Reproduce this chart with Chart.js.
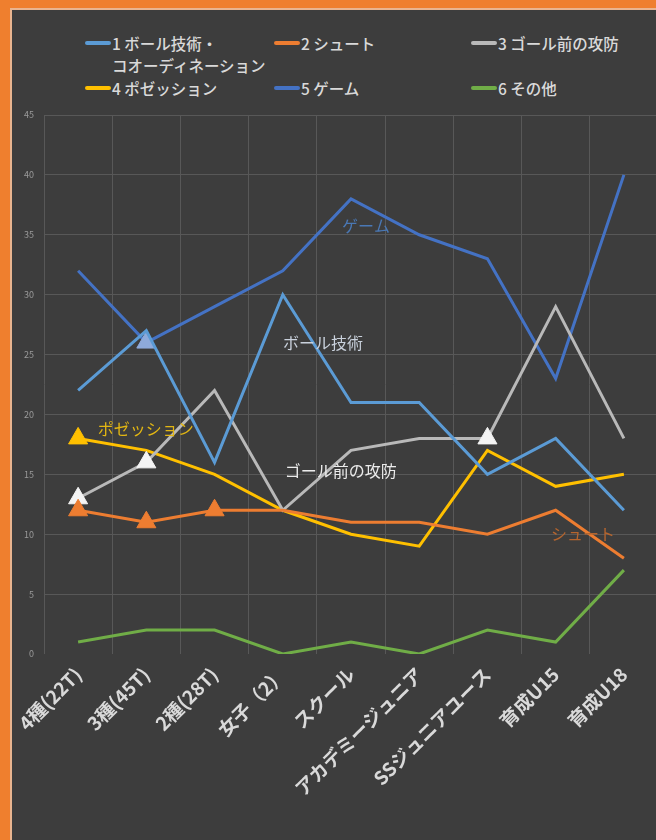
<!DOCTYPE html>
<html><head><meta charset="utf-8">
<script src="https://cdn.jsdelivr.net/npm/chart.js@4"></script>
<style>
html,body{margin:0;padding:0;width:656px;height:840px;overflow:hidden;background:#ef7f2e;font-family:"Noto Sans CJK JP","Noto Sans",sans-serif;}
#panel{position:absolute;left:10px;top:8px;width:650px;height:840px;background:#3d3d3d;border-left:2px solid #e9b48f;border-top:2px solid #e9b48f;}
#wrap{position:absolute;left:12px;top:10px;width:658px;height:830px;}
.lg{position:absolute;color:#d9d9d9;font-size:15.5px;line-height:22px;white-space:pre;font-weight:500;}
.lg i{position:absolute;left:-27px;top:9px;width:26px;height:4px;border-radius:2px;}
</style></head>
<body>
<div id="panel"></div>
<div id="legend"></div>
<div id="wrap"><canvas id="c" width="658" height="830"></canvas></div>
<script>
const categories = ['4種(22T)','3種(45T)','2種(28T)','女子（2）','スクール','アカデミージュニア','SSジュニアユース','育成U15','育成U18'];
const ballSkill  = [22,27,16,30,21,21,15,18,12];
const shoot      = [12,11,12,12,11,11,10,12,8];
const goalFront  = [13,16,22,12,17,18,18,29,18];
const possession = [18,17,15,12,10,9,17,14,15];
const game       = [32,26,29,32,38,35,33,23,40];
const other      = [1,2,2,0,1,0,2,1,7];
const yMin = 0, yMax = 45, yStep = 5;
const legendLabels = ['1 ボール技術・\nコオーディネーション','2 シュート','3 ゴール前の攻防','4 ポゼッション','5 ゲーム','6 その他'];
const inlineLabels = ['ゲーム','ボール技術','ポゼッション','ゴール前の攻防','シュート'];
const markedPoints = {ballSkill:[], shoot:[0,1,2], goalFront:[0,1,6], possession:[0], game:[1], other:[]};

const FONT = '"Noto Sans CJK JP","Noto Sans",sans-serif';
const series = [
  {label:legendLabels[0], data:ballSkill,  color:'#5b9bd5', mfill:'#5b9bd5', marks:markedPoints.ballSkill},
  {label:legendLabels[1], data:shoot,      color:'#ed7d31', mfill:'#ed7d31', marks:markedPoints.shoot},
  {label:legendLabels[2], data:goalFront,  color:'#b9b9b9', mfill:'#f4f4f4', marks:markedPoints.goalFront},
  {label:legendLabels[3], data:possession, color:'#ffc000', mfill:'#ffc000', marks:markedPoints.possession},
  {label:legendLabels[4], data:game,       color:'#4472c4', mfill:'#8eaadb', marks:markedPoints.game},
  {label:legendLabels[5], data:other,      color:'#70ad47', mfill:'#70ad47', marks:markedPoints.other}
];

// HTML legend
const legendPos = [[112,32],[301,32],[498,32],[112,77],[301,77],[498,77]];
const lg = document.getElementById('legend');
series.forEach((s,i)=>{
  const d = document.createElement('div');
  d.className='lg';
  d.style.left = legendPos[i][0]+'px';
  d.style.top = legendPos[i][1]+'px';
  d.textContent = s.label;
  const sw = document.createElement('i');
  sw.style.background = s.color;
  d.prepend(sw);
  lg.appendChild(d);
});

const inlineCfg = [
  {text:inlineLabels[0], idx:4.22, val:35.7, color:'#4a78b5'},
  {text:inlineLabels[1], idx:3.59, val:26.0, color:'#c9d1dc'},
  {text:inlineLabels[2], idx:0.99, val:18.8, color:'#e2b613'},
  {text:inlineLabels[3], idx:3.85, val:15.3, color:'#ececec'},
  {text:inlineLabels[4], idx:7.40, val:10.0, color:'#b5652e'}
];
const inlinePlugin = {
  id:'inline',
  afterDatasetsDraw(chart){
    const {ctx, scales:{x,y}} = chart;
    const x0 = x.getPixelForValue(0), step = x.getPixelForValue(1)-x0;
    ctx.save();
    ctx.font = '16px '+FONT;
    ctx.textAlign='center'; ctx.textBaseline='middle';
    inlineCfg.forEach(l=>{
      ctx.fillStyle=l.color;
      ctx.fillText(l.text, x0+l.idx*step, y.getPixelForValue(l.val));
    });
    ctx.restore();
  }
};

new Chart(document.getElementById('c'), {
  type:'line',
  data:{
    labels:categories,
    datasets:series.map(s=>({
      label:s.label, data:s.data,
      borderColor:s.color, backgroundColor:s.mfill,
      borderWidth:3, tension:0, fill:false,
      pointStyle:'triangle',
      pointRadius:ctx=>s.marks.includes(ctx.dataIndex)?11:0,
      pointHoverRadius:0,
      pointBackgroundColor:s.mfill, pointBorderColor:s.mfill, pointBorderWidth:1
    }))
  },
  options:{
    responsive:false, animation:false, devicePixelRatio:1,
    layout:{padding:{top:105,left:0,right:0,bottom:0}},
    plugins:{legend:{display:false}, tooltip:{enabled:false}},
    scales:{
      x:{
        type:'category', offset:true,
        grid:{offset:true, color:'#585858', lineWidth:1, drawTicks:false},
        border:{display:false},
        ticks:{color:'#d9d9d9', font:{family:FONT,size:19,weight:'bold'}, minRotation:45, maxRotation:45, autoSkip:false, padding:9},
        afterFit(s){ s.height=186; s.paddingLeft=0; s.paddingRight=0; }
      },
      y:{
        min:yMin, max:yMax,
        grid:{color:c=>c.tick && c.tick.value===0?'rgba(0,0,0,0)':'#585858', lineWidth:1, drawTicks:false},
        border:{display:false},
        ticks:{stepSize:yStep, color:'#9a9a9a', font:{family:FONT,size:9}, padding:10},
        afterFit(s){ s.width=32; }
      }
    }
  },
  plugins:[inlinePlugin]
});
</script>
</body></html>
